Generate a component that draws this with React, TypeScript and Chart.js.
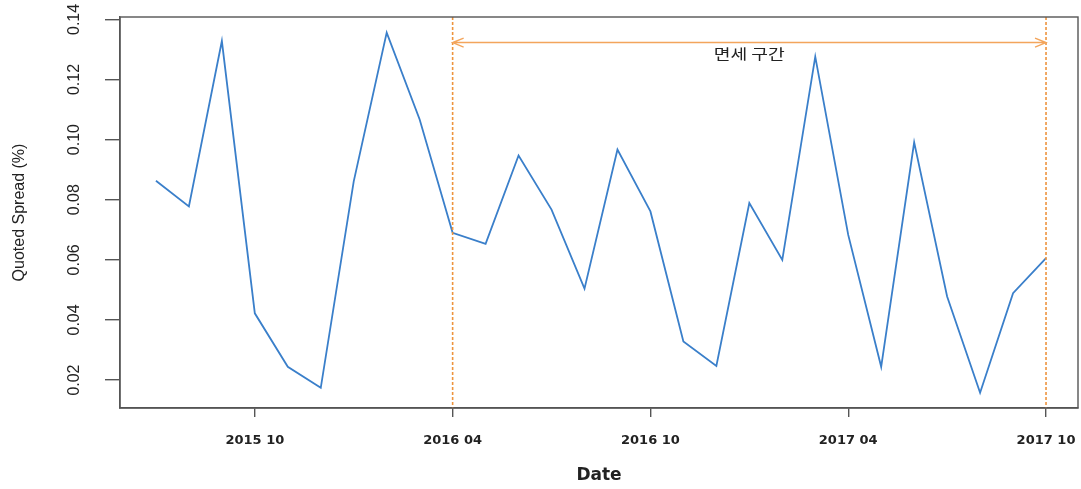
import { useEffect, useRef } from "react";
import { Chart, registerables } from "chart.js";

Chart.register(...registerables);

// Monthly observations, July 2015 through October 2017
const months = [
  "2015-07", "2015-08", "2015-09", "2015-10", "2015-11", "2015-12",
  "2016-01", "2016-02", "2016-03", "2016-04", "2016-05", "2016-06",
  "2016-07", "2016-08", "2016-09", "2016-10", "2016-11", "2016-12",
  "2017-01", "2017-02", "2017-03", "2017-04", "2017-05", "2017-06",
  "2017-07", "2017-08", "2017-09", "2017-10",
];

const quotedSpread = [
  0.0863, 0.0778, 0.1328, 0.0422, 0.0244, 0.0174,
  0.0861, 0.1356, 0.1067, 0.0690, 0.0653, 0.0947,
  0.0767, 0.0504, 0.0967, 0.0761, 0.0328, 0.0247,
  0.0789, 0.0600, 0.1276, 0.0683, 0.0244, 0.0991,
  0.0478, 0.0158, 0.0489, 0.0606,
];

const yTicks = [0.02, 0.04, 0.06, 0.08, 0.1, 0.12, 0.14];
const xTickMonths = ["2015-10", "2016-04", "2016-10", "2017-04", "2017-10"];
const xTickLabels = ["2015 10", "2016 04", "2016 10", "2017 04", "2017 10"];

// Tax-exempt window marked with dashed lines and a double arrow
const exemptStart = "2016-04";
const exemptEnd = "2017-10";
const exemptArrowLevel = 0.1323;
const exemptLabel = "면세 구간";

const LINE_BLUE = "#3a7fca";
const DASH_ORANGE = "#ee943e";
const ARROW_ORANGE = "#f3a55c";
const AXIS_GRAY = "#555555";
const TEXT = "#222222";

const zeroPadding = (scale: any) => {
  scale.paddingTop = 0;
  scale.paddingBottom = 0;
  scale.paddingLeft = 0;
  scale.paddingRight = 0;
};

const boxPlugin = {
  id: "plotBox",
  afterDraw(chart: any) {
    const { ctx, chartArea } = chart;
    ctx.save();
    ctx.strokeStyle = AXIS_GRAY;
    ctx.lineWidth = 1.4;
    ctx.strokeRect(chartArea.left, chartArea.top, chartArea.right - chartArea.left, chartArea.bottom - chartArea.top);
    ctx.restore();
  },
};

const exemptPlugin = {
  id: "exemptPeriod",
  afterDatasetsDraw(chart: any) {
    const { ctx, chartArea, scales } = chart;
    const xs = scales.x;
    const ys = scales.y;
    const x0 = xs.getPixelForValue(months.indexOf(exemptStart));
    const x1 = xs.getPixelForValue(months.indexOf(exemptEnd));
    const ay = ys.getPixelForValue(exemptArrowLevel);
    ctx.save();
    // dashed boundaries
    ctx.strokeStyle = DASH_ORANGE;
    ctx.lineWidth = 1.6;
    ctx.setLineDash([3, 2]);
    for (const x of [x0, x1]) {
      ctx.beginPath();
      ctx.moveTo(x, chartArea.top);
      ctx.lineTo(x, chartArea.bottom);
      ctx.stroke();
    }
    // double-headed arrow
    ctx.setLineDash([]);
    ctx.strokeStyle = ARROW_ORANGE;
    ctx.lineWidth = 1.4;
    ctx.beginPath();
    ctx.moveTo(x0, ay);
    ctx.lineTo(x1, ay);
    ctx.moveTo(x0 + 11, ay - 4.5);
    ctx.lineTo(x0, ay);
    ctx.lineTo(x0 + 11, ay + 4.5);
    ctx.moveTo(x1 - 11, ay - 4.5);
    ctx.lineTo(x1, ay);
    ctx.lineTo(x1 - 11, ay + 4.5);
    ctx.stroke();
    // label under the arrow
    ctx.fillStyle = TEXT;
    ctx.font = "14px 'Noto Sans CJK KR'";
    ctx.textAlign = "center";
    ctx.textBaseline = "middle";
    ctx.translate((x0 + x1) / 2, ay + 11);
    ctx.scale(1.3, 1);
    ctx.fillText(exemptLabel, 0, 0);
    ctx.restore();
  },
};

export default function App() {
  const canvasRef = useRef<HTMLCanvasElement | null>(null);

  useEffect(() => {
    const canvas = canvasRef.current;
    if (!canvas) return;
    const chart = new Chart(canvas, {
      type: "line",
      data: {
        datasets: [
          {
            label: "Quoted Spread (%)",
            data: quotedSpread.map((v, i) => ({ x: i, y: v })),
            borderColor: LINE_BLUE,
            borderWidth: 1.8,
            pointRadius: 0,
            tension: 0,
            fill: false,
          },
        ],
      },
      options: {
        animation: false,
        responsive: false,
        maintainAspectRatio: false,
        layout: { padding: { top: 17, right: 3, left: 0, bottom: 0 } },
        plugins: {
          legend: { display: false },
          tooltip: { enabled: false },
        },
        scales: {
          x: {
            type: "linear",
            min: -1.09,
            max: 27.97,
            afterFit(scale: any) {
              scale.height = 81;
              zeroPadding(scale);
            },
            afterBuildTicks(scale: any) {
              scale.ticks = xTickMonths.map((m) => ({ value: months.indexOf(m) }));
            },
            grid: {
              display: true,
              drawOnChartArea: false,
              drawTicks: true,
              tickLength: 9,
              color: AXIS_GRAY,
              lineWidth: 1.4,
            },
            border: { display: true, color: AXIS_GRAY, width: 1.4 },
            ticks: {
              padding: 16,
              color: TEXT,
              maxRotation: 0,
              autoSkip: false,
              font: { family: "'DejaVu Sans'", size: 13, weight: "bold" },
              callback: (value: any) => {
                const i = xTickMonths.indexOf(months[Number(value)]);
                return i >= 0 ? xTickLabels[i] : "";
              },
            },
            title: {
              display: true,
              text: "Date",
              color: TEXT,
              font: { family: "'DejaVu Sans'", size: 17, weight: "bold" },
              padding: { top: 0, bottom: 3 },
            },
          },
          y: {
            type: "linear",
            min: 0.0107,
            max: 0.1408,
            afterFit(scale: any) {
              scale.width = 120;
              zeroPadding(scale);
            },
            afterBuildTicks(scale: any) {
              scale.ticks = yTicks.map((v) => ({ value: v }));
            },
            grid: {
              display: true,
              drawOnChartArea: false,
              drawTicks: true,
              tickLength: 15,
              color: AXIS_GRAY,
              lineWidth: 1.4,
            },
            border: { display: true, color: AXIS_GRAY, width: 1.4 },
            ticks: {
              minRotation: 90,
              maxRotation: 90,
              crossAlign: "center",
              padding: 15,
              color: TEXT,
              font: { family: "'Liberation Sans'", size: 16 },
              callback: (value: any) => Number(value).toFixed(2),
            },
            title: {
              display: true,
              text: "Quoted Spread (%)",
              color: TEXT,
              font: { family: "'Liberation Sans'", size: 16 },
              padding: { top: 10, bottom: 0 },
            },
          },
        },
      },
      plugins: [boxPlugin, exemptPlugin],
    });
    return () => chart.destroy();
  }, []);

  return (
    <div style={{ position: "absolute", left: 0, top: 0, width: 1081, height: 489, background: "#ffffff" }}>
      <canvas ref={canvasRef} width={1081} height={489} />
    </div>
  );
}
